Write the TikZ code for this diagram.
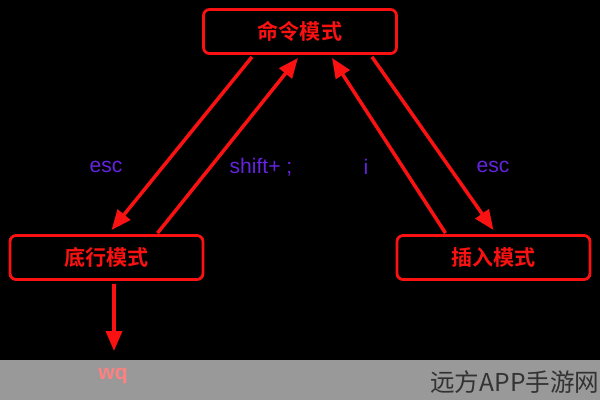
\documentclass[tikz,border=0pt]{standalone}
\usepackage{fontspec}
\setmainfont{Liberation Sans}
\newfontfamily\cjk{Noto Sans CJK SC}[BoldFont={Noto Sans CJK SC Bold}]
\usetikzlibrary{arrows.meta,calc}
\definecolor{modered}{RGB}{250,18,18}
\definecolor{keyblue}{RGB}{100,36,222}
\definecolor{bandgray}{RGB}{153,153,153}
\definecolor{wqpink}{RGB}{255,128,128}
\tikzset{
  modebox/.style={draw=modered,line width=1.6pt,rounded corners=0.12cm,
    minimum width=3.86cm,minimum height=0.88cm,text=modered,
    font=\cjk\bfseries\fontsize{12}{14}\selectfont},
  flow/.style={modered,line width=2pt,-{Triangle[length=0.4cm,width=0.32cm]}},
  keylabel/.style={text=keyblue,font=\fontsize{12}{14}\selectfont},
}
\begin{document}
\begin{tikzpicture}[x=0.02cm,y=-0.02cm]
  % black page, grey band at the bottom
  \useasboundingbox (0,0) rectangle (600,400);
  \clip (0,0) rectangle (600,400);
  \fill[black] (0,0) rectangle (600,400);
  \fill[bandgray] (0,360) rectangle (600,400);
  % the three modes
  \node[modebox] (cmd)    at (300,31.5)  {命令模式};
  \node[modebox] (bottom) at (106.5,257.5) {底行模式};
  \node[modebox] (insert) at (493.5,257.5) {插入模式};
  % switches between the modes
  \draw[flow] ($(cmd.south)+(-48,2)$)    -- ($(bottom.north)+(5,-4)$);
  \draw[flow] ($(bottom.north)+(51,-1)$) -- ($(cmd.south)+(-2,3)$);
  \draw[flow] ($(insert.north)+(-48,-1)$) -- ($(cmd.south)+(32,3)$);
  \draw[flow] ($(cmd.south)+(72,2)$)     -- ($(insert.north)+(0,-4)$);
  % leaving from the bottom line
  \coordinate (quit) at (114,351);
  \draw[flow] ($(bottom.south)+(7.5,3)$) -- (quit);
  % keys
  \node[keylabel] (k1) at (106,167) {esc};
  \node[keylabel] (k2) at (261,167) {shift+ ;};
  \node[keylabel] (k3) at (366,167) {i};
  \node[keylabel] (k4) at (493,167) {esc};
  \node[text=wqpink,font=\bfseries\fontsize{12}{14}\selectfont] (wq) at (113,376) {wq};
  % watermark
  \node[anchor=west,inner sep=0pt,text=black!80,font=\cjk\fontsize{14}{16}\selectfont] (mark) at (430,382) {远方APP手游网};
\end{tikzpicture}
\end{document}
